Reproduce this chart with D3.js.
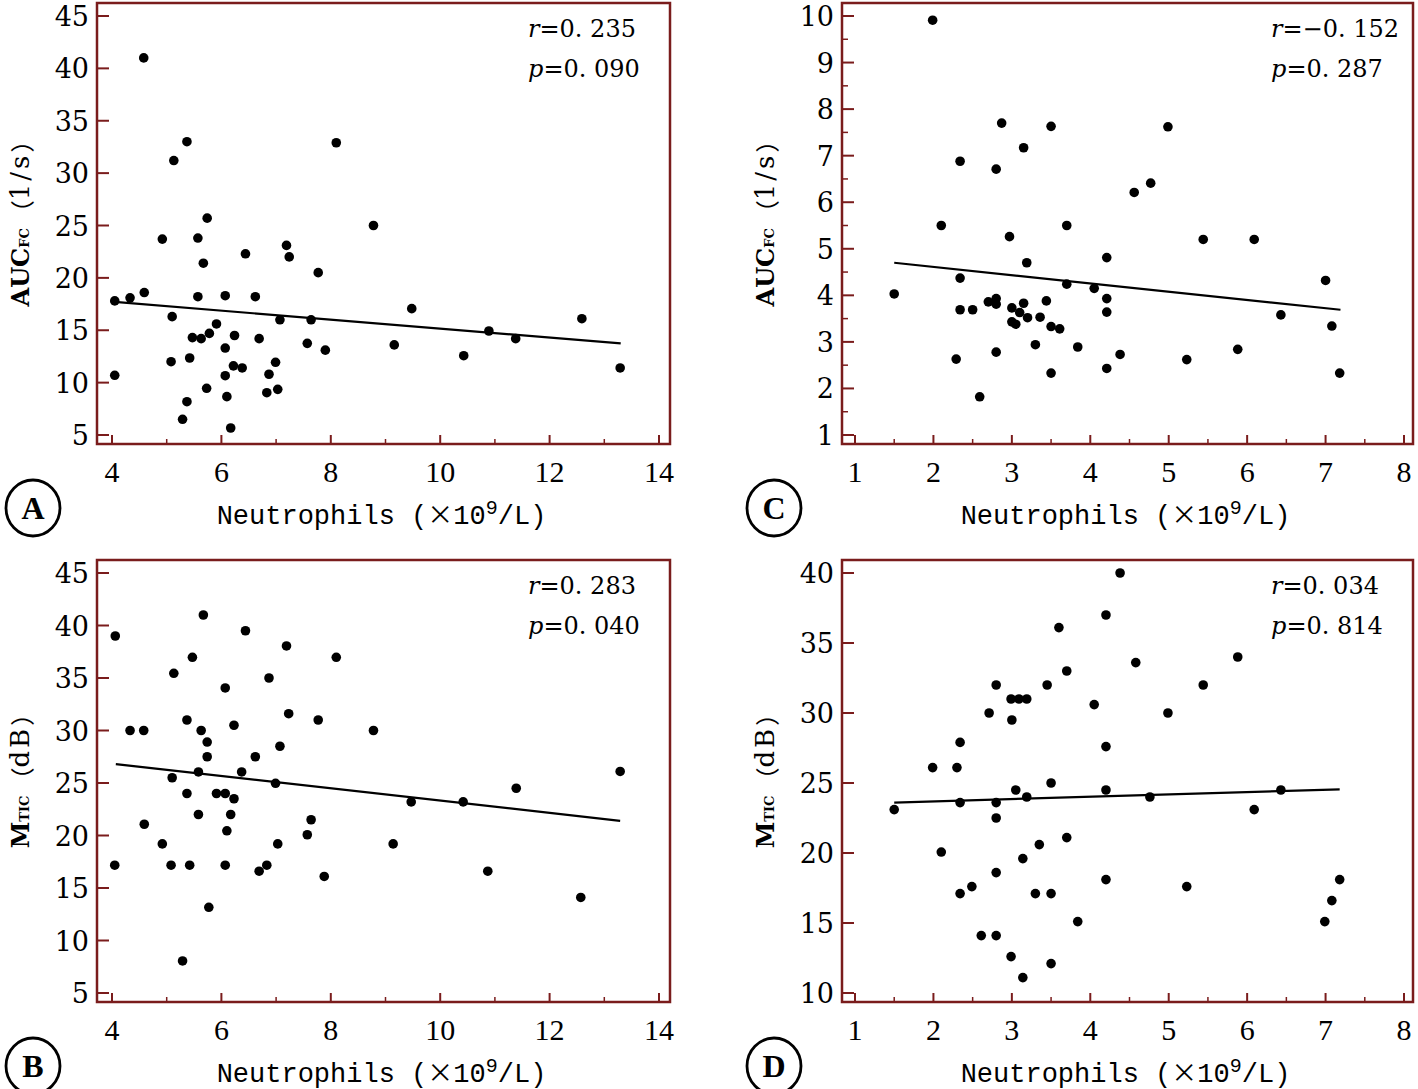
<!DOCTYPE html>
<html>
<head>
<meta charset="utf-8">
<script src="https://cdn.jsdelivr.net/npm/d3@7"></script>
<style>
  html, body { margin: 0; padding: 0; background: #fff; }
</style>
</head>
<body>
<div id="container"></div>
<script>
// values, panel by panel
const aX = [4.58,5.37,5.13,8.10,5.74,8.78,4.92,5.57,5.67,6.44,7.19,7.24,7.77,4.05,4.33,4.59,5.57,6.07,6.62,5.10,5.91,7.07,7.64,5.47,5.63,5.78,6.24,6.69,7.57,7.90,6.07,4.05,5.08,5.42,6.22,6.38,6.99,6.07,6.87,5.73,6.83,7.03,6.10,5.37,5.29,6.17,9.48,9.16,10.43,10.89,11.38,12.59,13.29]
const aY = [41.0,33.0,31.2,32.9,25.7,25.0,23.7,23.8,21.4,22.3,23.1,22.0,20.5,17.8,18.1,18.6,18.2,18.3,18.2,16.3,15.6,16.0,16.0,14.3,14.2,14.7,14.5,14.2,13.75,13.1,13.3,10.7,12.0,12.35,11.6,11.4,11.94,10.66,10.8,9.46,9.04,9.36,8.66,8.18,6.5,5.67,17.06,13.6,12.57,14.93,14.2,16.1,11.4]
const aFit = [[4.05, 17.7], [13.3, 13.75]]

const bX = [5.67,4.06,6.44,7.19,5.47,8.10,5.13,6.87,6.07,7.23,5.37,7.77,6.23,4.33,4.58,5.63,8.78,5.74,7.07,5.74,6.62,5.10,5.58,6.37,6.99,5.37,5.91,6.07,6.23,5.58,6.17,4.59,7.64,7.57,6.10,4.92,7.03,4.05,5.08,5.42,6.07,6.69,6.83,7.88,5.77,5.29,9.47,9.14,10.42,11.39,10.87,12.57,13.29]
const bY = [41.0,39.0,39.5,38.05,36.97,36.97,35.45,35.0,34.05,31.6,31.0,31.0,30.5,30.0,30.0,30.0,30.0,28.9,28.5,27.5,27.5,25.5,26.05,26.05,24.97,24.0,24.0,24.0,23.5,22.0,22.0,21.07,21.5,20.07,20.45,19.2,19.2,17.17,17.17,17.17,17.17,16.6,17.17,16.1,13.16,8.05,23.2,19.2,23.2,24.5,16.6,14.1,26.1]
const bFit = [[4.07, 26.8], [13.29, 21.4]]

const cX = [1.99,2.87,3.50,3.15,2.34,2.80,4.56,2.10,3.70,4.99,4.77,2.97,3.19,4.21,1.50,2.34,3.70,4.05,4.21,4.21,2.34,2.50,2.70,2.80,2.80,3.15,3.44,3.00,3.10,3.20,3.36,3.00,3.05,3.50,3.61,3.30,3.84,2.80,4.38,2.29,4.21,3.50,2.59,5.44,6.09,7.00,6.43,7.08,5.23,5.88,7.18]
const cY = [9.91,7.70,7.63,7.17,6.88,6.71,6.21,5.50,5.50,7.62,6.41,5.26,4.70,4.81,4.03,4.37,4.24,4.15,3.93,3.64,3.69,3.69,3.86,3.93,3.81,3.83,3.88,3.73,3.63,3.52,3.53,3.43,3.38,3.33,3.28,2.94,2.89,2.78,2.73,2.63,2.43,2.33,1.82,5.20,5.20,4.32,3.58,3.34,2.62,2.84,2.33]
const cFit = [[1.50, 4.70], [7.19, 3.69]]

const dX = [1.50,1.99,2.10,2.30,2.34,2.34,2.34,2.49,2.61,2.71,2.80,2.80,2.80,2.80,2.80,3.00,2.99,3.09,3.19,3.05,3.19,3.14,2.99,3.14,3.35,3.30,3.45,3.50,3.50,3.50,3.60,3.70,3.70,3.84,4.05,4.20,4.20,4.20,4.20,4.38,4.58,4.76,4.99,5.23,5.44,5.88,6.09,6.43,6.99,7.08,7.18]
const dY = [23.1,26.1,20.07,26.1,27.9,23.6,17.1,17.6,14.1,30.0,32.0,23.6,22.5,18.6,14.1,29.5,31.0,31.0,31.0,24.5,24.0,19.6,12.6,11.1,20.6,17.1,32.0,25.0,17.1,12.1,36.1,33.0,21.1,15.1,30.6,37.0,27.6,24.5,18.1,40.0,33.6,24.0,30.0,17.6,32.0,34.0,23.1,24.5,15.1,16.6,18.1]
const dFit = [[1.50, 23.6], [7.18, 24.55]]

const xTicksAB = [4, 6, 8, 10, 12, 14]
const xTicksCD = [1, 2, 3, 4, 5, 6, 7, 8]
const yTicksA = [5, 10, 15, 20, 25, 30, 35, 40, 45]
const yTicksC = [1, 2, 3, 4, 5, 6, 7, 8, 9, 10]
const yTicksD = [10, 15, 20, 25, 30, 35, 40]

const stats = {
  A: ['0. 235', '0. 090'],
  B: ['0. 283', '0. 040'],
  C: ['\u22120. 152', '0. 287'],
  D: ['0. 034', '0. 814']
}

const width = 1418
const height = 1089
const frameColor = '#7a1c1c'
const cjk = '"Noto Sans CJK SC", sans-serif'

const svg = d3.select('#container')
  .append('svg')
  .attr('xmlns', 'http://www.w3.org/2000/svg')
  .attr('width', width)
  .attr('height', height)
  .style('display', 'block')

// frame = outer box, x/y = scales, minor = minor tick steps
const panels = [
  {
    id: 'A', xs: aX, ys: aY, fit: aFit,
    frame: { left: 97, right: 670, top: 3, bottom: 444 },
    x: d3.scaleLinear().domain([4, 14]).range([112, 659]),
    y: d3.scaleLinear().domain([5, 45]).range([435, 16]),
    xTicks: xTicksAB, xMinor: d3.range(5, 14, 2),
    yTicks: yTicksA, yMinor: [],
    yLabel: 'auc', cx: 33
  },
  {
    id: 'B', xs: bX, ys: bY, fit: bFit,
    frame: { left: 97, right: 670, top: 560, bottom: 1002 },
    x: d3.scaleLinear().domain([4, 14]).range([112, 659]),
    y: d3.scaleLinear().domain([5, 45]).range([993, 573]),
    xTicks: xTicksAB, xMinor: d3.range(5, 14, 2),
    yTicks: yTicksA, yMinor: [],
    yLabel: 'mtic', cx: 33
  },
  {
    id: 'C', xs: cX, ys: cY, fit: cFit,
    frame: { left: 842, right: 1413, top: 3, bottom: 444 },
    x: d3.scaleLinear().domain([1, 8]).range([855, 1404]),
    y: d3.scaleLinear().domain([1, 10]).range([435, 16]),
    xTicks: xTicksCD, xMinor: d3.range(1.5, 8, 1),
    yTicks: yTicksC, yMinor: d3.range(1.5, 10, 1),
    yLabel: 'auc', cx: 774
  },
  {
    id: 'D', xs: dX, ys: dY, fit: dFit,
    frame: { left: 842, right: 1413, top: 560, bottom: 1002 },
    x: d3.scaleLinear().domain([1, 8]).range([855, 1404]),
    y: d3.scaleLinear().domain([10, 40]).range([993, 573]),
    xTicks: xTicksCD, xMinor: d3.range(1.5, 8, 1),
    yTicks: yTicksD, yMinor: [],
    yLabel: 'mtic', cx: 774
  }
]

function drawPanel(p) {
  const g = svg.append('g').attr('class', 'panel')
  const f = p.frame

  // ticks inside the box
  g.selectAll('.xmaj').data(p.xTicks).enter().append('line')
    .attr('x1', d => p.x(d)).attr('x2', d => p.x(d))
    .attr('y1', f.bottom).attr('y2', f.bottom - 9)
    .attr('stroke', frameColor).attr('stroke-width', 2)
  g.selectAll('.xmin').data(p.xMinor).enter().append('line')
    .attr('x1', d => p.x(d)).attr('x2', d => p.x(d))
    .attr('y1', f.bottom).attr('y2', f.bottom - 5)
    .attr('stroke', frameColor).attr('stroke-width', 1.5)
  g.selectAll('.ymaj').data(p.yTicks).enter().append('line')
    .attr('x1', f.left).attr('x2', f.left + 12)
    .attr('y1', d => p.y(d)).attr('y2', d => p.y(d))
    .attr('stroke', frameColor).attr('stroke-width', 2)
  g.selectAll('.ymin').data(p.yMinor).enter().append('line')
    .attr('x1', f.left).attr('x2', f.left + 6)
    .attr('y1', d => p.y(d)).attr('y2', d => p.y(d))
    .attr('stroke', frameColor).attr('stroke-width', 1.5)

  g.append('rect')
    .attr('x', f.left).attr('y', f.top)
    .attr('width', f.right - f.left).attr('height', f.bottom - f.top)
    .attr('fill', 'none')
    .attr('stroke', frameColor)
    .attr('stroke-width', 2.5)

  // tick labels
  g.selectAll('.xl').data(p.xTicks).enter().append('text')
    .attr('x', d => p.x(d)).attr('y', f.bottom + 38)
    .attr('text-anchor', 'middle')
    .style('font-family', '"Liberation Serif", serif')
    .style('font-size', '30px')
    .text(d => d)
  g.selectAll('.yl').data(p.yTicks).enter().append('text')
    .attr('x', f.left - 8).attr('y', d => p.y(d) + 10)
    .attr('text-anchor', 'end')
    .style('font-family', '"DejaVu Serif", serif')
    .style('font-size', '27px')
    .text(d => d)

  // regression line
  g.append('line')
    .attr('x1', p.x(p.fit[0][0])).attr('y1', p.y(p.fit[0][1]))
    .attr('x2', p.x(p.fit[1][0])).attr('y2', p.y(p.fit[1][1]))
    .attr('stroke', '#000').attr('stroke-width', 2.2)

  // points
  g.selectAll('.pt').data(d3.range(p.xs.length)).enter().append('circle')
    .attr('cx', i => p.x(p.xs[i]))
    .attr('cy', i => p.y(p.ys[i]))
    .attr('r', 4.8)
    .attr('fill', '#000')

  // r / p text
  const st = stats[p.id]
  const sx = f.right - 142
  ;[['r', st[0], f.top + 34], ['p', st[1], f.top + 74]].forEach(([k, v, yy]) => {
    const t = g.append('text').attr('x', sx).attr('y', yy)
      .style('font-family', '"DejaVu Serif", serif')
      .style('font-size', '24px')
    t.append('tspan').style('font-style', 'italic').text(k)
    t.append('tspan').text('=' + v)
  })

  // x axis label
  const xl = g.append('text')
    .attr('x', (f.left + f.right) / 2 - 2).attr('y', f.bottom + 80)
    .attr('text-anchor', 'middle')
    .style('font-family', '"Liberation Mono", monospace')
    .style('font-size', '27px')
  xl.append('tspan').text('Neutrophils (')
  xl.append('tspan').style('font-family', cjk).style('font-size', '26px').text('\u00d7')
  xl.append('tspan').text('10')
  xl.append('tspan').attr('dy', -10).style('font-size', '20px').text('9')
  xl.append('tspan').attr('dy', 10).text('/L)')

  // y axis label
  const ycx = f.left - 77
  const ycy = (f.top + f.bottom) / 2 - 6
  const yl = g.append('text')
    .attr('transform', `translate(${ycx},${ycy}) rotate(-90)`)
    .attr('text-anchor', 'middle')
    .attr('dominant-baseline', 'central')
    .style('font-family', '"DejaVu Serif", serif')
    .style('font-size', '24px')
  const main = p.yLabel === 'auc' ? ['AUC', 'FC', '1/s'] : ['M', 'TIC', 'dB']
  yl.append('tspan').style('font-weight', 'bold').text(main[0])
  yl.append('tspan').attr('dy', 4).style('font-size', '13px').style('font-weight', 'bold').text(main[1])
  yl.append('tspan').attr('dy', -4).attr('dx', 4).style('font-family', cjk).text('\uff08')
  yl.append('tspan').style('font-size', '26px').style('letter-spacing', '3px').text(main[2])
  yl.append('tspan').style('font-family', cjk).text('\uff09')

  // panel letter in a circle
  const cy = f.bottom + 64
  g.append('ellipse')
    .attr('cx', p.cx).attr('cy', cy).attr('rx', 27).attr('ry', 28)
    .attr('fill', 'none').attr('stroke', '#000').attr('stroke-width', 2.8)
  g.append('text')
    .attr('x', p.cx).attr('y', cy + 11)
    .attr('text-anchor', 'middle')
    .style('font-family', '"Liberation Serif", serif')
    .style('font-weight', 'bold')
    .style('font-size', '32px')
    .text(p.id)
}

panels.forEach(drawPanel)
</script>
</body>
</html>
